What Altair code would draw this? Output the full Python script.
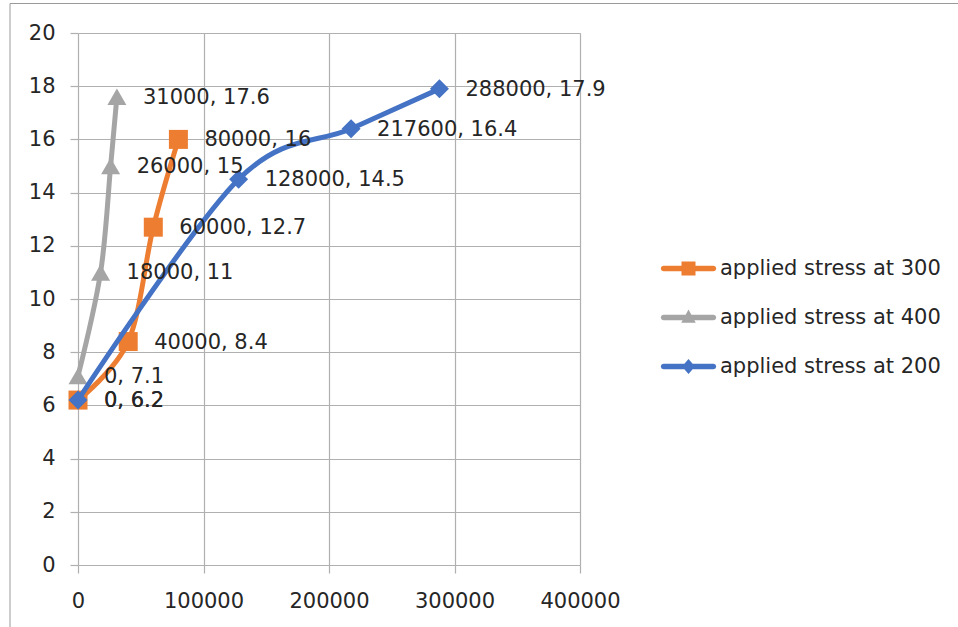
import altair as alt
import pandas as pd

# Series as they appear in the legend
series_names = ["applied stress at 300", "applied stress at 400", "applied stress at 200"]
series_colors = ["#ED7D31", "#A5A5A5", "#4472C4"]
series_shapes = ["square", "triangle-up", "diamond"]

x_300 = [0, 40000, 60000, 80000]
y_300 = [6.2, 8.4, 12.7, 16]

x_400 = [0, 18000, 26000, 31000]
y_400 = [7.1, 11, 15, 17.6]

x_200 = [0, 128000, 217600, 288000]
y_200 = [6.2, 14.5, 16.4, 17.9]

x_ticks = [0, 100000, 200000, 300000, 400000]
y_ticks = [0, 2, 4, 6, 8, 10, 12, 14, 16, 18, 20]

FONT = "DejaVu Sans"
TEXT_COLOR = "#262626"
GRID_COLOR = "#b0b0b0"


def num(v):
    return str(int(v)) if float(v).is_integer() else str(v)


def series_frame(name, xs, ys):
    return pd.DataFrame({
        "series": name,
        "x": xs,
        "y": ys,
        "label": [f"{num(a)}, {num(b)}" for a, b in zip(xs, ys)],
    })


frames = {
    "applied stress at 300": series_frame("applied stress at 300", x_300, y_300),
    "applied stress at 400": series_frame("applied stress at 400", x_400, y_400),
    "applied stress at 200": series_frame("applied stress at 200", x_200, y_200),
}
df_all = pd.concat(frames.values(), ignore_index=True)

x_enc = alt.X(
    "x:Q",
    scale=alt.Scale(domain=[0, 400000], nice=False, zero=False),
    axis=alt.Axis(values=x_ticks, format="d", title=None, labelPadding=17,
                  labelFlush=False, labelOverlap=False),
)
y_enc = alt.Y(
    "y:Q",
    scale=alt.Scale(domain=[0, 20], nice=False),
    axis=alt.Axis(values=y_ticks, title=None, labelPadding=15, labelOverlap=False),
)
color_enc = alt.Color(
    "series:N",
    scale=alt.Scale(domain=series_names, range=series_colors),
    legend=None,
)

# Legend symbols: a rounded bar with the series marker on top
BAR = ("M-5,-0.55 L5,-0.55 L5.39,-0.39 L5.55,0 L5.39,0.39 L5,0.55 "
       "L-5,0.55 L-5.39,0.39 L-5.55,0 L-5.39,-0.39 Z")
legend_paths = [
    BAR + " M-1.4,-1.4 L1.4,-1.4 L1.4,1.4 L-1.4,1.4 Z",
    BAR + " M0,-1.6 L1.45,1.05 L-1.45,1.05 Z",
    BAR + " M0,-1.5 L1.3,0 L0,1.5 L-1.3,0 Z",
]

# Page frame
frame = alt.Chart(alt.Data(values=[{}])).mark_rect(
    fillOpacity=0, stroke="#9a9a9a", strokeWidth=1
).encode(
    x=alt.value(-68), x2=alt.value(1000), y=alt.value(-29.5), y2=alt.value(700)
)

# Draw order: gray under orange under blue
draw_order = ["applied stress at 400", "applied stress at 300", "applied stress at 200"]
series_layers = []
for name in draw_order:
    shape = series_shapes[series_names.index(name)]
    base = alt.Chart(frames[name])
    line = base.mark_line(
        interpolate="cardinal", strokeWidth=5, strokeCap="round", strokeJoin="round"
    ).encode(x=x_enc, y=y_enc, color=color_enc)
    pts = base.mark_point(
        filled=True, shape=shape, size=361, opacity=1
    ).encode(x=x_enc, y=y_enc, color=color_enc)
    series_layers += [line, pts]

labels = alt.Chart(df_all).mark_text(
    align="left", baseline="middle", dx=26, dy=1,
    font=FONT, fontSize=21, color=TEXT_COLOR
).encode(x=x_enc, y=y_enc, text="label:N")

legend_def = alt.Legend(
    title=None, orient="none", legendX=600, legendY=225,
    labelFont=FONT, labelFontSize=21, labelColor=TEXT_COLOR, labelLimit=0,
    symbolSize=100, symbolStrokeWidth=0, symbolOpacity=1,
    labelOffset=21, rowPadding=27, padding=0,
)
# Invisible marks that carry the legend (fill + shape merged into one)
legend_layer = alt.Chart(df_all).mark_point(
    filled=True, size=100, strokeWidth=0, opacity=0
).encode(
    x=x_enc, y=y_enc,
    fill=alt.Fill("series:N", scale=alt.Scale(domain=series_names, range=series_colors),
                  legend=legend_def),
    shape=alt.Shape("series:N", scale=alt.Scale(domain=series_names, range=legend_paths),
                    legend=legend_def),
)

chart = alt.layer(legend_layer, frame, *series_layers, labels).properties(
    width=502, height=532,
    padding={"left": 78, "top": 33, "right": 378, "bottom": 62},
    autosize=alt.AutoSizeParams(type="none"),
    background="white",
).configure_axis(
    labelFont=FONT, labelFontSize=21, labelColor=TEXT_COLOR,
    gridColor=GRID_COLOR, gridWidth=1.2, gridOpacity=1,
    tickColor=GRID_COLOR, tickSize=8, tickWidth=1.2,
    domain=False,
).configure_view(stroke=None)

chart.save("out.html", embed_options={"renderer": "svg", "actions": False})
